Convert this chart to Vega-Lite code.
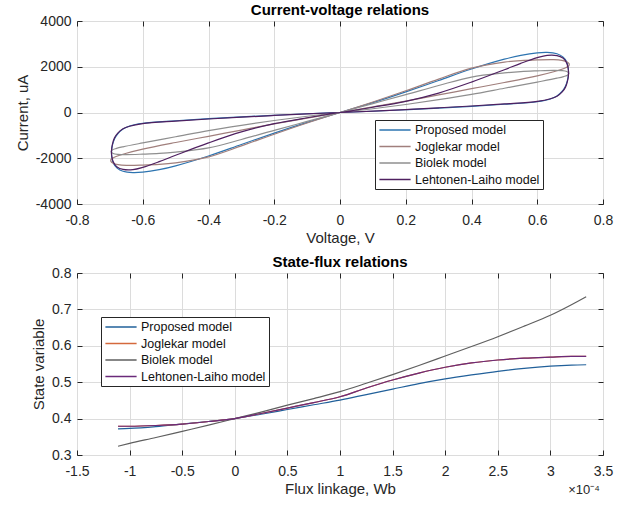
{
 "$schema": "https://vega.github.io/schema/vega-lite/v6.json",
 "padding": {"left": 14, "top": 2, "right": 5, "bottom": 5},
 "background": "white",
 "bounds": "flush",
 "spacing": 69,
 "resolve": {"scale": {"color": "independent"}, "legend": {"color": "independent"}},
 "config": {
  "font": "Liberation Sans",
  "view": {"stroke": "#262626", "strokeWidth": 1},
  "axis": {"grid": true, "gridColor": "#dcdcdc", "domain": false, "tickColor": "#262626", "tickSize": -5, "labelFlush": false, "labelOverlap": false, "labelFontSize": 14, "labelColor": "#262626", "titleFontSize": 15, "titleFontWeight": "normal", "titleColor": "#262626"},
  "axisX": {"labelPadding": 14, "titlePadding": 3},
  "axisY": {"labelPadding": 11, "titlePadding": 5},
  "title": {"fontSize": 15, "fontWeight": "bold", "color": "#000000", "frame": "group", "anchor": "middle", "offset": -3.5},
  "legend": {"orient": "none", "symbolType": "M-2.6,0H2.6", "symbolSize": 144, "symbolStrokeWidth": 1.5, "symbolOffset": 10, "labelOffset": 13, "padding": 3, "rowPadding": 2.5, "strokeColor": "#262626", "fillColor": "#ffffff", "labelFontSize": 12.5, "labelColor": "#111111", "labelLimit": 400, "cornerRadius": 0}
 },
 "vconcat": [
  {
   "width": 526, "height": 183,
   "title": {"text": "Current-voltage relations"},
   "resolve": {"axis": {"x": "independent", "y": "independent"}},
   "layer": [
    {
     "data": {"values": [
      {"m":"Proposed model","i":0,"v":0,"c":0},{"m":"Proposed model","i":1,"v":0.05,"c":210},{"m":"Proposed model","i":2,"v":0.1,"c":430},{"m":"Proposed model","i":3,"v":0.15,"c":660},{"m":"Proposed model","i":4,"v":0.2,"c":900},{"m":"Proposed model","i":5,"v":0.3,"c":1400},{"m":"Proposed model","i":6,"v":0.4,"c":1900},{"m":"Proposed model","i":7,"v":0.5,"c":2330},{"m":"Proposed model","i":8,"v":0.55,"c":2500},{"m":"Proposed model","i":9,"v":0.6,"c":2610},{"m":"Proposed model","i":10,"v":0.63,"c":2630},{"m":"Proposed model","i":11,"v":0.66,"c":2570},{"m":"Proposed model","i":12,"v":0.678,"c":2430},{"m":"Proposed model","i":13,"v":0.689,"c":2230},{"m":"Proposed model","i":14,"v":0.694,"c":1980},{"m":"Proposed model","i":15,"v":0.695,"c":1700},{"m":"Proposed model","i":16,"v":0.692,"c":1420},{"m":"Proposed model","i":17,"v":0.686,"c":1160},{"m":"Proposed model","i":18,"v":0.676,"c":930},{"m":"Proposed model","i":19,"v":0.66,"c":720},{"m":"Proposed model","i":20,"v":0.64,"c":590},{"m":"Proposed model","i":21,"v":0.6,"c":470},{"m":"Proposed model","i":22,"v":0.5,"c":360},{"m":"Proposed model","i":23,"v":0.4,"c":270},{"m":"Proposed model","i":24,"v":0.3,"c":190},{"m":"Proposed model","i":25,"v":0.2,"c":120},{"m":"Proposed model","i":26,"v":0.1,"c":55},{"m":"Proposed model","i":27,"v":0,"c":0},
      {"m":"Proposed model","i":28,"v":-0.1,"c":-55},{"m":"Proposed model","i":29,"v":-0.2,"c":-120},{"m":"Proposed model","i":30,"v":-0.3,"c":-190},{"m":"Proposed model","i":31,"v":-0.4,"c":-270},{"m":"Proposed model","i":32,"v":-0.5,"c":-360},{"m":"Proposed model","i":33,"v":-0.6,"c":-470},{"m":"Proposed model","i":34,"v":-0.64,"c":-590},{"m":"Proposed model","i":35,"v":-0.66,"c":-720},{"m":"Proposed model","i":36,"v":-0.676,"c":-930},{"m":"Proposed model","i":37,"v":-0.686,"c":-1160},{"m":"Proposed model","i":38,"v":-0.692,"c":-1420},{"m":"Proposed model","i":39,"v":-0.695,"c":-1700},{"m":"Proposed model","i":40,"v":-0.694,"c":-1980},{"m":"Proposed model","i":41,"v":-0.689,"c":-2230},{"m":"Proposed model","i":42,"v":-0.678,"c":-2430},{"m":"Proposed model","i":43,"v":-0.66,"c":-2570},{"m":"Proposed model","i":44,"v":-0.63,"c":-2630},{"m":"Proposed model","i":45,"v":-0.6,"c":-2610},{"m":"Proposed model","i":46,"v":-0.55,"c":-2500},{"m":"Proposed model","i":47,"v":-0.5,"c":-2330},{"m":"Proposed model","i":48,"v":-0.4,"c":-1900},{"m":"Proposed model","i":49,"v":-0.3,"c":-1400},{"m":"Proposed model","i":50,"v":-0.2,"c":-900},{"m":"Proposed model","i":51,"v":-0.15,"c":-660},{"m":"Proposed model","i":52,"v":-0.1,"c":-430},{"m":"Proposed model","i":53,"v":-0.05,"c":-210},{"m":"Proposed model","i":54,"v":0,"c":0},

      {"m":"Joglekar model","i":0,"v":0,"c":0},{"m":"Joglekar model","i":1,"v":0.1,"c":460},{"m":"Joglekar model","i":2,"v":0.2,"c":950},{"m":"Joglekar model","i":3,"v":0.3,"c":1460},{"m":"Joglekar model","i":4,"v":0.4,"c":1940},{"m":"Joglekar model","i":5,"v":0.5,"c":2200},{"m":"Joglekar model","i":6,"v":0.55,"c":2270},{"m":"Joglekar model","i":7,"v":0.6,"c":2300},{"m":"Joglekar model","i":8,"v":0.65,"c":2310},{"m":"Joglekar model","i":9,"v":0.675,"c":2280},{"m":"Joglekar model","i":10,"v":0.69,"c":2220},{"m":"Joglekar model","i":11,"v":0.697,"c":2130},{"m":"Joglekar model","i":12,"v":0.696,"c":2040},{"m":"Joglekar model","i":13,"v":0.688,"c":1970},{"m":"Joglekar model","i":14,"v":0.67,"c":1870},{"m":"Joglekar model","i":15,"v":0.65,"c":1780},{"m":"Joglekar model","i":16,"v":0.6,"c":1600},{"m":"Joglekar model","i":17,"v":0.5,"c":1310},{"m":"Joglekar model","i":18,"v":0.4,"c":1040},{"m":"Joglekar model","i":19,"v":0.3,"c":770},{"m":"Joglekar model","i":20,"v":0.2,"c":500},{"m":"Joglekar model","i":21,"v":0.1,"c":245},{"m":"Joglekar model","i":22,"v":0,"c":0},
      {"m":"Joglekar model","i":23,"v":-0.1,"c":-245},{"m":"Joglekar model","i":24,"v":-0.2,"c":-500},{"m":"Joglekar model","i":25,"v":-0.3,"c":-770},{"m":"Joglekar model","i":26,"v":-0.4,"c":-1040},{"m":"Joglekar model","i":27,"v":-0.5,"c":-1310},{"m":"Joglekar model","i":28,"v":-0.6,"c":-1600},{"m":"Joglekar model","i":29,"v":-0.65,"c":-1780},{"m":"Joglekar model","i":30,"v":-0.67,"c":-1870},{"m":"Joglekar model","i":31,"v":-0.688,"c":-1970},{"m":"Joglekar model","i":32,"v":-0.696,"c":-2040},{"m":"Joglekar model","i":33,"v":-0.697,"c":-2130},{"m":"Joglekar model","i":34,"v":-0.69,"c":-2220},{"m":"Joglekar model","i":35,"v":-0.675,"c":-2280},{"m":"Joglekar model","i":36,"v":-0.65,"c":-2310},{"m":"Joglekar model","i":37,"v":-0.6,"c":-2300},{"m":"Joglekar model","i":38,"v":-0.55,"c":-2270},{"m":"Joglekar model","i":39,"v":-0.5,"c":-2200},{"m":"Joglekar model","i":40,"v":-0.4,"c":-1940},{"m":"Joglekar model","i":41,"v":-0.3,"c":-1460},{"m":"Joglekar model","i":42,"v":-0.2,"c":-950},{"m":"Joglekar model","i":43,"v":-0.1,"c":-460},{"m":"Joglekar model","i":44,"v":0,"c":0},

      {"m":"Biolek model","i":0,"v":0,"c":0},{"m":"Biolek model","i":1,"v":0.1,"c":390},{"m":"Biolek model","i":2,"v":0.2,"c":780},{"m":"Biolek model","i":3,"v":0.3,"c":1180},{"m":"Biolek model","i":4,"v":0.4,"c":1550},{"m":"Biolek model","i":5,"v":0.5,"c":1730},{"m":"Biolek model","i":6,"v":0.55,"c":1790},{"m":"Biolek model","i":7,"v":0.6,"c":1820},{"m":"Biolek model","i":8,"v":0.65,"c":1840},{"m":"Biolek model","i":9,"v":0.675,"c":1830},{"m":"Biolek model","i":10,"v":0.69,"c":1790},{"m":"Biolek model","i":11,"v":0.696,"c":1720},{"m":"Biolek model","i":12,"v":0.693,"c":1640},{"m":"Biolek model","i":13,"v":0.68,"c":1570},{"m":"Biolek model","i":14,"v":0.66,"c":1500},{"m":"Biolek model","i":15,"v":0.6,"c":1330},{"m":"Biolek model","i":16,"v":0.5,"c":1060},{"m":"Biolek model","i":17,"v":0.4,"c":790},{"m":"Biolek model","i":18,"v":0.3,"c":560},{"m":"Biolek model","i":19,"v":0.2,"c":350},{"m":"Biolek model","i":20,"v":0.1,"c":165},{"m":"Biolek model","i":21,"v":0,"c":0},
      {"m":"Biolek model","i":22,"v":-0.1,"c":-165},{"m":"Biolek model","i":23,"v":-0.2,"c":-350},{"m":"Biolek model","i":24,"v":-0.3,"c":-560},{"m":"Biolek model","i":25,"v":-0.4,"c":-790},{"m":"Biolek model","i":26,"v":-0.5,"c":-1060},{"m":"Biolek model","i":27,"v":-0.6,"c":-1330},{"m":"Biolek model","i":28,"v":-0.66,"c":-1500},{"m":"Biolek model","i":29,"v":-0.68,"c":-1570},{"m":"Biolek model","i":30,"v":-0.693,"c":-1640},{"m":"Biolek model","i":31,"v":-0.696,"c":-1720},{"m":"Biolek model","i":32,"v":-0.69,"c":-1790},{"m":"Biolek model","i":33,"v":-0.675,"c":-1830},{"m":"Biolek model","i":34,"v":-0.65,"c":-1840},{"m":"Biolek model","i":35,"v":-0.6,"c":-1820},{"m":"Biolek model","i":36,"v":-0.55,"c":-1790},{"m":"Biolek model","i":37,"v":-0.5,"c":-1730},{"m":"Biolek model","i":38,"v":-0.4,"c":-1550},{"m":"Biolek model","i":39,"v":-0.3,"c":-1180},{"m":"Biolek model","i":40,"v":-0.2,"c":-780},{"m":"Biolek model","i":41,"v":-0.1,"c":-390},{"m":"Biolek model","i":42,"v":0,"c":0},

      {"m":"Lehtonen-Laiho model","i":0,"v":0,"c":0},{"m":"Lehtonen-Laiho model","i":1,"v":0.1,"c":230},{"m":"Lehtonen-Laiho model","i":2,"v":0.2,"c":490},{"m":"Lehtonen-Laiho model","i":3,"v":0.3,"c":850},{"m":"Lehtonen-Laiho model","i":4,"v":0.4,"c":1330},{"m":"Lehtonen-Laiho model","i":5,"v":0.5,"c":1870},{"m":"Lehtonen-Laiho model","i":6,"v":0.55,"c":2150},{"m":"Lehtonen-Laiho model","i":7,"v":0.6,"c":2400},{"m":"Lehtonen-Laiho model","i":8,"v":0.63,"c":2500},{"m":"Lehtonen-Laiho model","i":9,"v":0.66,"c":2490},{"m":"Lehtonen-Laiho model","i":10,"v":0.678,"c":2380},{"m":"Lehtonen-Laiho model","i":11,"v":0.689,"c":2180},{"m":"Lehtonen-Laiho model","i":12,"v":0.694,"c":1930},{"m":"Lehtonen-Laiho model","i":13,"v":0.695,"c":1650},{"m":"Lehtonen-Laiho model","i":14,"v":0.692,"c":1370},{"m":"Lehtonen-Laiho model","i":15,"v":0.686,"c":1110},{"m":"Lehtonen-Laiho model","i":16,"v":0.676,"c":900},{"m":"Lehtonen-Laiho model","i":17,"v":0.66,"c":710},{"m":"Lehtonen-Laiho model","i":18,"v":0.64,"c":600},{"m":"Lehtonen-Laiho model","i":19,"v":0.6,"c":485},{"m":"Lehtonen-Laiho model","i":20,"v":0.5,"c":375},{"m":"Lehtonen-Laiho model","i":21,"v":0.4,"c":285},{"m":"Lehtonen-Laiho model","i":22,"v":0.3,"c":205},{"m":"Lehtonen-Laiho model","i":23,"v":0.2,"c":130},{"m":"Lehtonen-Laiho model","i":24,"v":0.1,"c":60},{"m":"Lehtonen-Laiho model","i":25,"v":0,"c":0},
      {"m":"Lehtonen-Laiho model","i":26,"v":-0.1,"c":-60},{"m":"Lehtonen-Laiho model","i":27,"v":-0.2,"c":-130},{"m":"Lehtonen-Laiho model","i":28,"v":-0.3,"c":-205},{"m":"Lehtonen-Laiho model","i":29,"v":-0.4,"c":-285},{"m":"Lehtonen-Laiho model","i":30,"v":-0.5,"c":-375},{"m":"Lehtonen-Laiho model","i":31,"v":-0.6,"c":-485},{"m":"Lehtonen-Laiho model","i":32,"v":-0.64,"c":-600},{"m":"Lehtonen-Laiho model","i":33,"v":-0.66,"c":-710},{"m":"Lehtonen-Laiho model","i":34,"v":-0.676,"c":-900},{"m":"Lehtonen-Laiho model","i":35,"v":-0.686,"c":-1110},{"m":"Lehtonen-Laiho model","i":36,"v":-0.692,"c":-1370},{"m":"Lehtonen-Laiho model","i":37,"v":-0.695,"c":-1650},{"m":"Lehtonen-Laiho model","i":38,"v":-0.694,"c":-1930},{"m":"Lehtonen-Laiho model","i":39,"v":-0.689,"c":-2180},{"m":"Lehtonen-Laiho model","i":40,"v":-0.678,"c":-2380},{"m":"Lehtonen-Laiho model","i":41,"v":-0.66,"c":-2490},{"m":"Lehtonen-Laiho model","i":42,"v":-0.63,"c":-2500},{"m":"Lehtonen-Laiho model","i":43,"v":-0.6,"c":-2400},{"m":"Lehtonen-Laiho model","i":44,"v":-0.55,"c":-2150},{"m":"Lehtonen-Laiho model","i":45,"v":-0.5,"c":-1870},{"m":"Lehtonen-Laiho model","i":46,"v":-0.4,"c":-1330},{"m":"Lehtonen-Laiho model","i":47,"v":-0.3,"c":-850},{"m":"Lehtonen-Laiho model","i":48,"v":-0.2,"c":-490},{"m":"Lehtonen-Laiho model","i":49,"v":-0.1,"c":-230},{"m":"Lehtonen-Laiho model","i":50,"v":0,"c":0}
     ]},
     "mark": {"type": "line", "interpolate": "catmull-rom", "strokeWidth": 1.2},
     "encoding": {
      "x": {"field": "v", "type": "quantitative", "scale": {"domain": [-0.8, 0.8], "nice": false}, "axis": {"title": "Voltage, V", "values": [-0.8, -0.6, -0.4, -0.2, 0, 0.2, 0.4, 0.6, 0.8], "labelExpr": "'' + datum.value"}},
      "y": {"field": "c", "type": "quantitative", "scale": {"domain": [-4000, 4000], "nice": false}, "axis": {"title": "Current, uA", "values": [-4000, -2000, 0, 2000, 4000], "labelExpr": "'' + datum.value"}},
      "color": {"field": "m", "type": "nominal", "scale": {"domain": ["Proposed model", "Joglekar model", "Biolek model", "Lehtonen-Laiho model"], "range": ["#2d74b0", "#a07f7c", "#8f8f8f", "#4f2060"]}, "legend": {"title": null, "legendX": 298, "legendY": 99}},
      "order": {"field": "i", "type": "quantitative"}
     }
    },
    {
     "data": {"values": [{"k": 1}]},
     "mark": {"type": "point", "opacity": 0},
     "encoding": {
      "x": {"datum": 0, "type": "quantitative", "axis": {"orient": "top", "labels": false, "grid": false, "domain": false, "title": null, "values": [-0.8, -0.6, -0.4, -0.2, 0, 0.2, 0.4, 0.6, 0.8]}},
      "y": {"datum": 0, "type": "quantitative", "axis": {"orient": "right", "labels": false, "grid": false, "domain": false, "title": null, "values": [-4000, -2000, 0, 2000, 4000]}}
     }
    }
   ]
  },
  {
   "width": 526, "height": 182,
   "title": {"text": "State-flux relations"},
   "resolve": {"axis": {"x": "independent", "y": "independent"}},
   "layer": [
    {
     "data": {"values": [
      {"m":"Proposed model","f":-1.11,"s":0.372},{"m":"Proposed model","f":-1.0,"s":0.373},{"m":"Proposed model","f":-0.75,"s":0.378},{"m":"Proposed model","f":-0.5,"s":0.385},{"m":"Proposed model","f":-0.25,"s":0.392},{"m":"Proposed model","f":0,"s":0.4},{"m":"Proposed model","f":0.25,"s":0.412},{"m":"Proposed model","f":0.5,"s":0.425},{"m":"Proposed model","f":0.75,"s":0.438},{"m":"Proposed model","f":1.0,"s":0.451},{"m":"Proposed model","f":1.25,"s":0.466},{"m":"Proposed model","f":1.5,"s":0.481},{"m":"Proposed model","f":1.75,"s":0.496},{"m":"Proposed model","f":2.0,"s":0.509},{"m":"Proposed model","f":2.25,"s":0.52},{"m":"Proposed model","f":2.5,"s":0.53},{"m":"Proposed model","f":2.75,"s":0.538},{"m":"Proposed model","f":3.0,"s":0.544},{"m":"Proposed model","f":3.2,"s":0.547},{"m":"Proposed model","f":3.34,"s":0.548},
      {"m":"Joglekar model","f":-1.11,"s":0.379},{"m":"Joglekar model","f":-1.0,"s":0.379},{"m":"Joglekar model","f":-0.75,"s":0.381},{"m":"Joglekar model","f":-0.5,"s":0.385},{"m":"Joglekar model","f":-0.25,"s":0.392},{"m":"Joglekar model","f":0,"s":0.4},{"m":"Joglekar model","f":0.25,"s":0.414},{"m":"Joglekar model","f":0.5,"s":0.429},{"m":"Joglekar model","f":0.75,"s":0.444},{"m":"Joglekar model","f":1.0,"s":0.46},{"m":"Joglekar model","f":1.25,"s":0.484},{"m":"Joglekar model","f":1.5,"s":0.506},{"m":"Joglekar model","f":1.75,"s":0.525},{"m":"Joglekar model","f":2.0,"s":0.541},{"m":"Joglekar model","f":2.25,"s":0.553},{"m":"Joglekar model","f":2.5,"s":0.561},{"m":"Joglekar model","f":2.75,"s":0.566},{"m":"Joglekar model","f":3.0,"s":0.569},{"m":"Joglekar model","f":3.2,"s":0.571},{"m":"Joglekar model","f":3.34,"s":0.571},
      {"m":"Biolek model","f":-1.11,"s":0.324},{"m":"Biolek model","f":-1.0,"s":0.332},{"m":"Biolek model","f":-0.75,"s":0.348},{"m":"Biolek model","f":-0.5,"s":0.365},{"m":"Biolek model","f":-0.25,"s":0.382},{"m":"Biolek model","f":0,"s":0.4},{"m":"Biolek model","f":0.25,"s":0.418},{"m":"Biolek model","f":0.5,"s":0.437},{"m":"Biolek model","f":0.75,"s":0.455},{"m":"Biolek model","f":1.0,"s":0.474},{"m":"Biolek model","f":1.25,"s":0.497},{"m":"Biolek model","f":1.5,"s":0.521},{"m":"Biolek model","f":1.75,"s":0.546},{"m":"Biolek model","f":2.0,"s":0.572},{"m":"Biolek model","f":2.25,"s":0.598},{"m":"Biolek model","f":2.5,"s":0.625},{"m":"Biolek model","f":2.75,"s":0.654},{"m":"Biolek model","f":3.0,"s":0.684},{"m":"Biolek model","f":3.2,"s":0.713},{"m":"Biolek model","f":3.34,"s":0.735},
      {"m":"Lehtonen-Laiho model","f":-1.11,"s":0.379},{"m":"Lehtonen-Laiho model","f":-1.0,"s":0.379},{"m":"Lehtonen-Laiho model","f":-0.75,"s":0.381},{"m":"Lehtonen-Laiho model","f":-0.5,"s":0.385},{"m":"Lehtonen-Laiho model","f":-0.25,"s":0.392},{"m":"Lehtonen-Laiho model","f":0,"s":0.4},{"m":"Lehtonen-Laiho model","f":0.25,"s":0.414},{"m":"Lehtonen-Laiho model","f":0.5,"s":0.429},{"m":"Lehtonen-Laiho model","f":0.75,"s":0.444},{"m":"Lehtonen-Laiho model","f":1.0,"s":0.46},{"m":"Lehtonen-Laiho model","f":1.25,"s":0.484},{"m":"Lehtonen-Laiho model","f":1.5,"s":0.506},{"m":"Lehtonen-Laiho model","f":1.75,"s":0.525},{"m":"Lehtonen-Laiho model","f":2.0,"s":0.541},{"m":"Lehtonen-Laiho model","f":2.25,"s":0.553},{"m":"Lehtonen-Laiho model","f":2.5,"s":0.561},{"m":"Lehtonen-Laiho model","f":2.75,"s":0.566},{"m":"Lehtonen-Laiho model","f":3.0,"s":0.569},{"m":"Lehtonen-Laiho model","f":3.2,"s":0.571},{"m":"Lehtonen-Laiho model","f":3.34,"s":0.571}
     ]},
     "mark": {"type": "line", "interpolate": "monotone", "strokeWidth": 1.2},
     "encoding": {
      "x": {"field": "f", "type": "quantitative", "scale": {"domain": [-1.5, 3.5], "nice": false}, "axis": {"title": "Flux linkage, Wb", "values": [-1.5, -1, -0.5, 0, 0.5, 1, 1.5, 2, 2.5, 3, 3.5], "labelExpr": "'' + datum.value"}},
      "y": {"field": "s", "type": "quantitative", "scale": {"domain": [0.3, 0.8], "nice": false, "zero": false}, "axis": {"title": "State variable", "values": [0.3, 0.4, 0.5, 0.6, 0.7, 0.8], "labelExpr": "'' + datum.value"}},
      "color": {"field": "m", "type": "nominal", "scale": {"domain": ["Proposed model", "Joglekar model", "Biolek model", "Lehtonen-Laiho model"], "range": ["#21609a", "#d4693c", "#5f5f5f", "#6a2a7a"]}, "legend": {"title": null, "legendX": 24, "legendY": 44}}
     }
    },
    {
     "data": {"values": [{"k": 1}]},
     "mark": {"type": "text", "text": "×10⁻⁴", "fontSize": 13, "align": "center", "baseline": "middle", "color": "#262626"},
     "encoding": {
      "x": {"datum": 3.32, "type": "quantitative", "axis": {"orient": "top", "labels": false, "grid": false, "domain": false, "title": null, "values": [-1.5, -1, -0.5, 0, 0.5, 1, 1.5, 2, 2.5, 3, 3.5]}},
      "y": {"datum": 0.204, "type": "quantitative", "axis": {"orient": "right", "labels": false, "grid": false, "domain": false, "title": null, "values": [0.3, 0.4, 0.5, 0.6, 0.7, 0.8]}}
     }
    }
   ]
  }
 ]
}
